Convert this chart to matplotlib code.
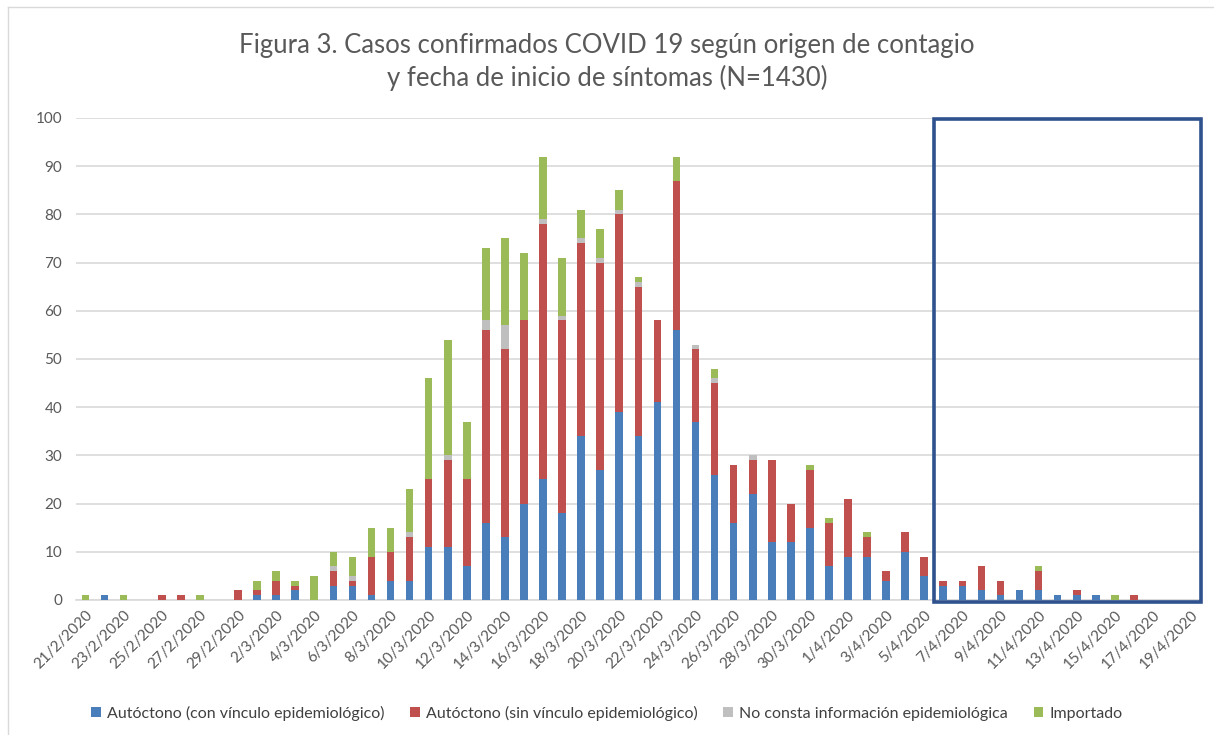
import matplotlib

matplotlib.use("Agg")
import matplotlib.pyplot as plt
import numpy as np
from matplotlib.lines import Line2D
from matplotlib.patches import Rectangle

# Fecha de inicio de síntomas, 21/2/2020 a 19/4/2020 (un valor por día)
dates = (
    [f"{d}/2/2020" for d in range(21, 30)]
    + [f"{d}/3/2020" for d in range(1, 32)]
    + [f"{d}/4/2020" for d in range(1, 20)]
)

con_vinculo = [0, 1, 0, 0, 0, 0, 0, 0, 0, 1, 1, 2, 0, 3, 3, 1, 4, 4, 11, 11,
               7, 16, 13, 20, 25, 18, 34, 27, 39, 34, 41, 56, 37, 26, 16, 22, 12, 12, 15, 7,
               9, 9, 4, 10, 5, 3, 3, 2, 1, 2, 2, 1, 1, 1, 0, 0, 0, 0, 0]
sin_vinculo = [0, 0, 0, 0, 1, 1, 0, 0, 2, 1, 3, 1, 0, 3, 1, 8, 6, 9, 14, 18,
               18, 40, 39, 38, 53, 40, 40, 43, 41, 31, 17, 31, 15, 19, 12, 7, 17, 8, 12, 9,
               12, 4, 2, 4, 4, 1, 1, 5, 3, 0, 4, 0, 1, 0, 0, 1, 0, 0, 0]
no_consta = [0, 0, 0, 0, 0, 0, 0, 0, 0, 0, 0, 0, 0, 1, 1, 0, 0, 1, 0, 1,
             0, 2, 5, 0, 1, 1, 1, 1, 1, 1, 0, 0, 1, 1, 0, 1, 0, 0, 0, 0,
             0, 0, 0, 0, 0, 0, 0, 0, 0, 0, 0, 0, 0, 0, 0, 0, 0, 0, 0]
importado = [1, 0, 1, 0, 0, 0, 1, 0, 0, 2, 2, 1, 5, 3, 4, 6, 5, 9, 21, 24,
             12, 15, 18, 14, 13, 12, 6, 6, 4, 1, 0, 5, 0, 2, 0, 0, 0, 0, 1, 1,
             0, 1, 0, 0, 0, 0, 0, 0, 0, 0, 1, 0, 0, 0, 1, 0, 0, 0, 0]

series = [
    ("Autóctono (con vínculo epidemiológico)", con_vinculo, "#4A7EBB"),
    ("Autóctono (sin vínculo epidemiológico)", sin_vinculo, "#C0504D"),
    ("No consta información epidemiológica", no_consta, "#BFBFBF"),
    ("Importado", importado, "#9BBB59"),
]

plt.rcParams["font.family"] = ["Lato", "DejaVu Sans"]

fig = plt.figure(figsize=(12.14, 7.35), dpi=100)
ax = fig.add_axes([0.0626, 0.1837, 0.9264, 0.6558])

# borde del gráfico recortado: solo lado izquierdo y superior
bx, by = 8 / 1214, 1 - 7 / 735
fig.add_artist(Line2D([bx, bx], [0, by], transform=fig.transFigure,
                      color="#D9D9D9", linewidth=1.0))
fig.add_artist(Line2D([bx, 1], [by, by], transform=fig.transFigure,
                      color="#D9D9D9", linewidth=1.0))

x = np.arange(len(dates))
bottom = np.zeros(len(dates))
for label, vals, color in series:
    vals = np.asarray(vals, dtype=float)
    ax.bar(x, vals, 0.4, bottom=bottom, color=color, label=label, zorder=3)
    bottom += vals

ax.set_xlim(-0.5, len(dates) - 0.5)
ax.set_ylim(0, 100)
ax.set_yticks(np.arange(0, 101, 10))
ax.yaxis.grid(True, color="#D9D9D9", linewidth=1.2, zorder=0)
ax.tick_params(axis="y", length=0, labelsize=11, labelcolor="#595959", pad=10)
ax.set_xticks(x[::2])
ax.set_xticklabels(dates[::2], rotation=45, ha="right", rotation_mode="anchor",
                   fontsize=11, color="#595959")
ax.tick_params(axis="x", length=0, pad=6)
for side in ["left", "right", "top"]:
    ax.spines[side].set_visible(False)
ax.spines["bottom"].set_color("#D9D9D9")
ax.spines["bottom"].set_linewidth(1.2)

# recuadro sobre los últimos días (desde 6/4/2020)
start = dates.index("6/4/2020") - 0.5
ax.add_patch(Rectangle((start, -0.5), len(dates) - 0.5 - start, 100.2,
                       fill=False, edgecolor="#2F528F", linewidth=2.6,
                       clip_on=False, zorder=5))

fig.suptitle("Figura 3. Casos confirmados COVID 19 según origen de contagio\n"
             "y fecha de inicio de síntomas (N=1430)",
             y=0.955, fontsize=18.5, color="#595959", linespacing=1.3)

fig.legend(loc="lower center", bbox_to_anchor=(0.5, 0.0), ncol=4, frameon=False,
           fontsize=11.5, handlelength=0.6, handleheight=0.6, handletextpad=0.4,
           columnspacing=1.6, labelcolor="#404040")

fig.savefig("out.png", dpi=100)
